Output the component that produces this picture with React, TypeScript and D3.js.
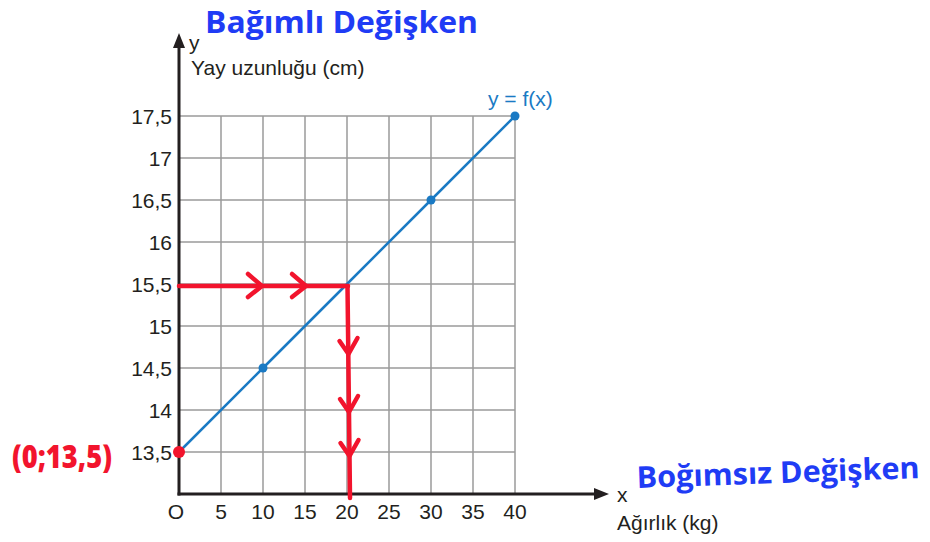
import React from "react";
import * as d3 from "d3";

// Weight (kg) vs spring length (cm)
const weights = [0, 10, 20, 30, 40];
const lengths = [13.5, 14.5, 15.5, 16.5, 17.5];
const markedWeights = [10, 30, 40];
const markedLengths = [14.5, 16.5, 17.5];
const xTicks = [5, 10, 15, 20, 25, 30, 35, 40];
const yTicks = [13.5, 14, 14.5, 15, 15.5, 16, 16.5, 17, 17.5];
const fmt = (v: number) => String(v).replace(".", ",");

// Reading path: from y = 15,5 across to the line, then down to x = 20
const readY = 15.5;
const readX = 20;

const W = 930;
const H = 542;

export default function App() {
  const x = d3.scaleLinear().domain([0, 40]).range([179, 515]);
  const y = d3.scaleLinear().domain([13, 17.5]).range([494, 116]);
  const line = d3
    .line<number>()
    .x((_, i) => x(weights[i]))
    .y((d) => y(d));

  const font = "Liberation Sans, Arial, sans-serif";
  const hand = "'Open Sans', sans-serif";
  const blueInk = "#1f3cf5";
  const redInk = "#f2142d";
  const grid = "#9a9a9a";
  const ink = "#231f20";
  const fs = 21;

  const x0 = x(0);
  const y0 = y(13);
  const xEnd = x(40);
  const yTop = y(17.5);

  const arrowRight = (cx: number, cy: number) =>
    `M${cx - 14},${cy - 12} L${cx},${cy} L${cx - 14},${cy + 11}`;
  const arrowDown = (cx: number, cy: number) =>
    `M${cx - 9},${cy - 13} L${cx},${cy} L${cx + 9},${cy - 16}`;

  return (
    <svg
      width={W}
      height={H}
      style={{ position: "absolute", left: 0, top: 0, background: "#fff" }}
    >
      {/* grid */}
      {xTicks.map((t) => (
        <line key={"gx" + t} x1={x(t)} x2={x(t)} y1={yTop} y2={y0} stroke={grid} strokeWidth={1.5} />
      ))}
      {yTicks.map((t) => (
        <line key={"gy" + t} x1={x0} x2={xEnd} y1={y(t)} y2={y(t)} stroke={grid} strokeWidth={1.5} />
      ))}

      {/* axes */}
      <line x1={x0} x2={x0} y1={y0 + 1.5} y2={44} stroke={ink} strokeWidth={3} />
      <path d={`M${x0},33 L${x0 - 6},48 L${x0 + 6},48 Z`} fill={ink} />
      <line x1={x0 - 1.5} x2={596} y1={y0} y2={y0} stroke={ink} strokeWidth={3} />
      <path d={`M609,${y0} L594,${y0 - 6} L594,${y0 + 6} Z`} fill={ink} />

      {/* tick labels */}
      {yTicks.map((t) => (
        <text key={"ty" + t} x={172} y={y(t) + 8} textAnchor="end" fontFamily={font} fontSize={fs} fill={ink}>
          {fmt(t)}
        </text>
      ))}
      {xTicks.map((t) => (
        <text key={"tx" + t} x={x(t)} y={519} textAnchor="middle" fontFamily={font} fontSize={fs} fill={ink}>
          {fmt(t)}
        </text>
      ))}
      <text x={x0 - 3} y={519} textAnchor="middle" fontFamily={font} fontSize={fs} fill={ink}>O</text>

      {/* axis titles */}
      <text x={189} y={50} fontFamily={font} fontSize={fs} fill={ink}>y</text>
      <text x={191} y={75} fontFamily={font} fontSize={fs} fill={ink}>Yay uzunluğu (cm)</text>
      <text x={617} y={502} fontFamily={font} fontSize={fs} fill={ink}>x</text>
      <text x={617} y={530} fontFamily={font} fontSize={fs} fill={ink}>Ağırlık (kg)</text>

      {/* function line */}
      <path d={line(lengths) || ""} fill="none" stroke="#1a7ac4" strokeWidth={2.5} />
      {markedWeights.map((w, i) => (
        <circle key={"p" + w} cx={x(w)} cy={y(markedLengths[i])} r={4.5} fill="#1a7ac4" />
      ))}
      <text x={488} y={106} fontFamily={font} fontSize={fs} fill="#1a7ac4">y = f(x)</text>

      {/* reading path */}
      <g stroke={redInk} strokeWidth={4.5} fill="none" strokeLinecap="round" strokeLinejoin="round">
        <line x1={x0} x2={x(readX) + 1} y1={y(readY) + 2} y2={y(readY) + 2} />
        <line x1={x(readX) + 0.5} x2={x(readX) + 3} y1={y(readY) + 2} y2={y0 + 4} />
        <path d={arrowRight(262, y(readY) + 2)} />
        <path d={arrowRight(306, y(readY) + 2)} />
        <path d={arrowDown(x(readX) + 1.5, 354)} />
        <path d={arrowDown(x(readX) + 2, 412)} />
        <path d={arrowDown(x(readX) + 2.5, 456)} />
      </g>
      <circle cx={x(0)} cy={y(13.5)} r={6} fill={redInk} />

      {/* handwritten notes */}
      <text x={12} y={468} fontFamily={hand} fontWeight={800} fontSize={32} fill={redInk} textLength={100} lengthAdjust="spacingAndGlyphs">
        (0;13,5)
      </text>
      <text x={205} y={33} fontFamily={hand} fontWeight={700} fontSize={30} fill={blueInk} textLength={273} lengthAdjust="spacingAndGlyphs">
        Bağımlı Değişken
      </text>
      <text x={637} y={488} fontFamily={hand} fontWeight={700} fontSize={30} fill={blueInk} textLength={283} lengthAdjust="spacingAndGlyphs" transform="rotate(-2 637 488)">
        Boğımsız Değişken
      </text>
    </svg>
  );
}
